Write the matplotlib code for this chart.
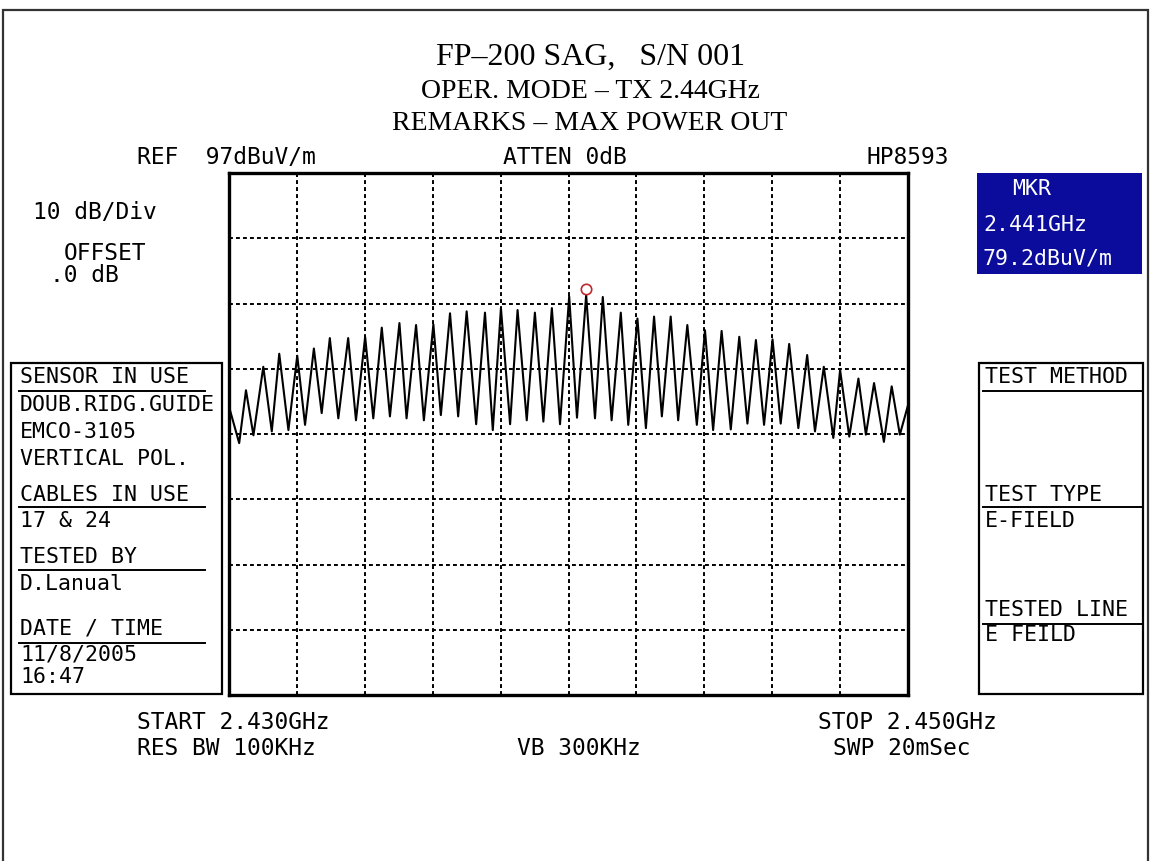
#!/usr/bin/env python3
import matplotlib
matplotlib.use("Agg")
import matplotlib.pyplot as plt
from matplotlib import patches
from matplotlib.lines import Line2D

W, H = 1151, 861
DPI = 100
MONO = "DejaVu Sans Mono"
SERIF = "Liberation Serif"
FS = 16.5
FS_PANEL = 15.5
BLUE = "#0c0c9c"

# Sweep settings
START_GHZ = 2.430
STOP_GHZ = 2.450
REF_LEVEL = 97.0
DB_PER_DIV = 10.0
N_XDIV = 10
N_YDIV = 8

# Trace: offset from start (MHz) and level (dBuV/m)
trace_mhz = [
    0.00, 0.30, 0.50, 0.72, 1.01, 1.26, 1.48, 1.75, 2.01, 2.24,
    2.50, 2.73, 2.97, 3.22, 3.51, 3.74, 4.01, 4.25, 4.50, 4.74,
    5.02, 5.23, 5.51, 5.74, 6.02, 6.24, 6.51, 6.75, 7.00, 7.28,
    7.54, 7.77, 8.01, 8.28, 8.50, 8.77, 9.01, 9.26, 9.51, 9.75,
    10.02, 10.25, 10.52, 10.78, 11.01, 11.27, 11.54, 11.76, 12.03, 12.28,
    12.52, 12.75, 13.01, 13.23, 13.50, 13.78, 14.02, 14.26, 14.51, 14.78,
    15.03, 15.27, 15.52, 15.76, 16.01, 16.25, 16.50, 16.77, 17.03, 17.26,
    17.52, 17.80, 18.00, 18.27, 18.54, 18.76, 19.00, 19.29, 19.52, 19.76,
    20.00,
]
trace_db = [
    61.2, 55.6, 63.7, 56.8, 67.3, 57.4, 69.3, 57.6, 69.0, 58.4,
    70.1, 60.2, 71.7, 59.4, 71.7, 59.1, 71.9, 59.4, 73.3, 59.7,
    74.0, 59.4, 73.7, 59.1, 73.8, 59.9, 75.5, 59.7, 75.8, 58.5,
    75.6, 57.6, 76.3, 58.5, 76.0, 59.1, 75.6, 58.9, 76.3, 58.5,
    78.1, 59.5, 78.3, 59.4, 78.0, 59.1, 75.6, 58.4, 74.7, 57.9,
    75.0, 59.7, 75.0, 59.1, 73.7, 58.4, 72.9, 57.6, 72.8, 57.7,
    71.9, 58.6, 71.4, 58.4, 71.5, 58.6, 70.8, 57.9, 69.1, 57.4,
    67.3, 56.4, 66.8, 56.6, 65.5, 56.9, 64.8, 55.8, 64.3, 56.9,
    61.4,
]

# Marker
marker_mhz = 10.52
marker_db = 79.2

title_lines = ["FP\u2013200 SAG,   S/N 001", "OPER. MODE \u2013 TX 2.44GHz", "REMARKS \u2013 MAX POWER OUT"]
title_sizes = [23, 20, 20]
title_y = [57, 91, 124]

left_panel = ["SENSOR IN USE", "DOUB.RIDG.GUIDE", "EMCO-3105", "VERTICAL POL.",
              "CABLES IN USE", "17 & 24", "TESTED BY", "D.Lanual", "DATE / TIME",
              "11/8/2005", "16:47"]
left_base = [383, 411, 438, 465, 501, 527, 563, 590, 634, 661, 683]
left_rule_y = [391, None, None, None, 507, None, 570, None, 643, None, None]

right_panel = ["TEST METHOD", "TEST TYPE", "E-FIELD", "TESTED LINE", "E FEILD"]
right_base = [383, 501, 527, 616, 641]
right_rule_y = [391, 507, None, 624, None]


def fx(x):
    return x / W


def fy(y):
    return 1 - y / H


def px_text(fig, x, y, s, **kw):
    kw.setdefault("family", MONO)
    kw.setdefault("fontsize", FS)
    kw.setdefault("va", "baseline")
    kw.setdefault("ha", "left")
    fig.text(fx(x), fy(y), s, **kw)


def hline(fig, x0, x1, y, lw=1.4):
    fig.add_artist(Line2D([fx(x0), fx(x1)], [fy(y), fy(y)], color="black", lw=lw))


def box(fig, x0, y0, x1, y1, lw=1.5, fc="none", ec="black"):
    fig.add_artist(patches.Rectangle((fx(x0), fy(y1)), fx(x1) - fx(x0), fy(y0) - fy(y1),
                                     lw=lw, ec=ec, fc=fc, transform=fig.transFigure))


fig = plt.figure(figsize=(W / DPI, H / DPI), dpi=DPI)
fig.patch.set_facecolor("white")

# Outer sheet frame
box(fig, 3, 10, 1148, 870, lw=1.6, ec="#333333")

# Titles
for s, size, y in zip(title_lines, title_sizes, title_y):
    fig.text(fx(590), fy(y), s, family=SERIF, fontsize=size, ha="center", va="center")

# Screen plot area
ax = fig.add_axes([fx(229), fy(695), fx(908) - fx(229), fy(173) - fy(695)])
x0 = START_GHZ
span = STOP_GHZ - START_GHZ
bottom = REF_LEVEL - N_YDIV * DB_PER_DIV
ax.set_xlim(x0, STOP_GHZ)
ax.set_ylim(bottom, REF_LEVEL)
ax.set_xticks([x0 + span * i / N_XDIV for i in range(1, N_XDIV)])
ax.set_yticks([bottom + DB_PER_DIV * i for i in range(1, N_YDIV)])
ax.tick_params(length=0, labelbottom=False, labelleft=False)
ax.grid(True, color="black", lw=1.4, linestyle=(0, (2.0, 1.6)))
for sp in ax.spines.values():
    sp.set_linewidth(2.4)

freqs = [x0 + m / 1000.0 for m in trace_mhz]
ax.plot(freqs, trace_db, color="black", lw=1.5, zorder=3)
ax.plot([x0 + marker_mhz / 1000.0], [marker_db], marker="o", ms=7.5, mfc="none",
        mec="#c0282d", mew=1.2, zorder=4)

# Header readouts
px_text(fig, 137, 164, "REF  97dBuV/m")
px_text(fig, 503, 164, "ATTEN 0dB")
px_text(fig, 866, 164, "HP8593")
px_text(fig, 33, 219, "10 dB/Div")
px_text(fig, 64, 260, "OFFSET")
px_text(fig, 50, 282, ".0 dB")

# Marker box
box(fig, 977, 173, 1142, 274, lw=0, fc=BLUE, ec=BLUE)
px_text(fig, 1012, 195, "MKR", color="white", fontsize=FS_PANEL)
px_text(fig, 983, 231, "2.441GHz", color="white", fontsize=FS_PANEL)
px_text(fig, 983, 265, "79.2dBuV/m", color="white", fontsize=FS_PANEL)

# Left info panel
box(fig, 11, 363, 222, 694, lw=1.6)
for s, y, ry in zip(left_panel, left_base, left_rule_y):
    px_text(fig, 20, y, s, fontsize=FS_PANEL)
    if ry is not None:
        hline(fig, 19, 205, ry)

# Right info panel
box(fig, 979, 363, 1143, 694, lw=1.6)
for s, y, ry in zip(right_panel, right_base, right_rule_y):
    px_text(fig, 985, y, s, fontsize=FS_PANEL)
    if ry is not None:
        hline(fig, 983, 1142, ry)

# Footer readouts
px_text(fig, 137, 729, "START 2.430GHz")
px_text(fig, 137, 755, "RES BW 100KHz")
px_text(fig, 517, 755, "VB 300KHz")
px_text(fig, 818, 729, "STOP 2.450GHz")
px_text(fig, 833, 755, "SWP 20mSec")

fig.savefig("out.png", dpi=DPI)
